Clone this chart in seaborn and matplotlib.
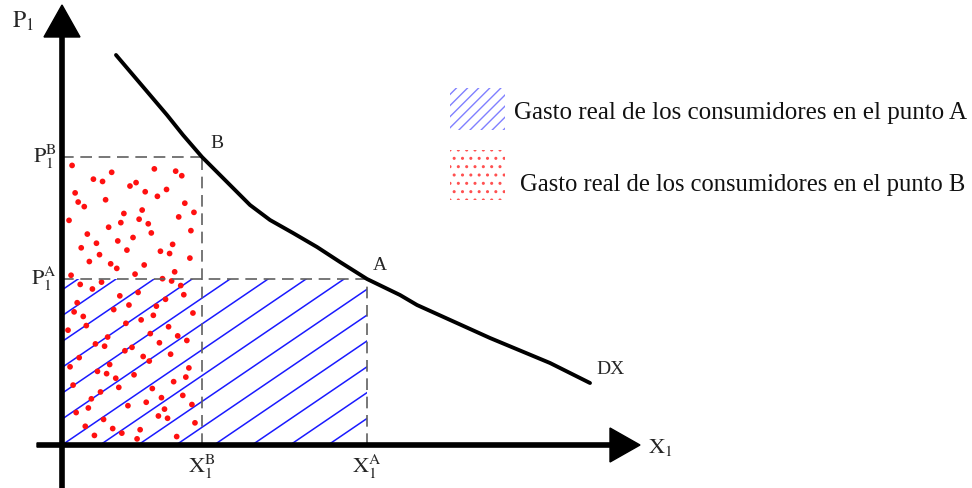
import numpy as np
import pandas as pd
import matplotlib
matplotlib.use("Agg")
import matplotlib.pyplot as plt
from matplotlib.patches import Rectangle
from matplotlib.collections import LineCollection
import seaborn as sns

# curva de demanda DX (cantidad X1, precio P1)
demand_x = [54, 71, 88, 105, 121, 140, 155, 171, 188, 208, 231, 255,
            278, 305, 338, 355, 428, 488, 528]
demand_p = [390, 370, 350, 330, 310, 288, 273, 257, 240, 225, 212, 198,
            183, 166, 150, 140, 107, 82, 62]

# puntos A y B sobre la curva
point_names = ["A", "B"]
point_x = [305, 140]   # X1^A, X1^B
point_p = [166, 288]   # P1^A, P1^B

legend_labels = ["Gasto real de los consumidores en el punto A",
                 "Gasto real de los consumidores en el punto B"]

sns.set_theme(style="white")
plt.rcParams["font.family"] = ["Liberation Serif", "DejaVu Serif"]
plt.rcParams["mathtext.fontset"] = "stix"
plt.rcParams["hatch.linewidth"] = 1.0

xa, xb = point_x
pa, pb = point_p


def halton(i, base):
    # secuencia de van der Corput para la textura de puntos
    f, r = 1.0, 0.0
    while i > 0:
        f /= base
        r += f * (i % base)
        i //= base
    return r


fig = plt.figure(figsize=(9.72, 4.88), dpi=100)
ax = fig.add_axes([0, 0, 1, 1])
ax.set_xlim(-62, 910)
ax.set_ylim(-43, 445)
ax.axis("off")

# area A: rayado azul
rect_a = Rectangle((0, 0), xa, pa, fill=False, lw=0)
ax.add_patch(rect_a)
slope, step = 0.68, 38
segs = []
for c in np.arange(-9, 10) * step:
    segs.append([(c, 0), (c + 500, 500 * slope)])
lc = LineCollection(segs, colors="#1a1aff", linewidths=1.1, zorder=2)
ax.add_collection(lc)
lc.set_clip_path(rect_a)

# area B: puntos rojos (textura cuasi-aleatoria determinista)
n = np.arange(1, 116)
dot_x = 5 + np.array([halton(i, 2) for i in n]) * (xb - 10)
dot_y = 5 + np.array([halton(i, 3) for i in n]) * (pb - 10)
sns.scatterplot(x=dot_x, y=dot_y, ax=ax, color="#ff1010", s=17,
                edgecolor="none", zorder=3, legend=False)

# lineas punteadas
dash = dict(color="#606060", lw=1.2, dashes=(7, 4), zorder=4)
ax.plot([0, xb], [pb, pb], **dash)
ax.plot([0, xa], [pa, pa], **dash)
ax.plot([xb, xb], [0, pb], **dash)
ax.plot([xa, xa], [0, pa], **dash)

# curva de demanda
df = pd.DataFrame({"x": demand_x, "p": demand_p})
sns.lineplot(data=df, x="x", y="p", ax=ax, color="black", lw=2.8,
             sort=False, zorder=5, solid_capstyle="round")

# ejes con flechas
ax.arrow(0, -43, 0, 483, width=4.2, head_width=36, head_length=32,
         length_includes_head=True, color="black", zorder=6)
ax.arrow(-25, 0, 603, 0, width=4.2, head_width=34, head_length=30,
         length_includes_head=True, color="black", zorder=6)

# etiquetas
fs = 16
ax.text(-50, 424, r"$\mathrm{P}_{\mathrm{1}}$", fontsize=17, ha="left", va="center")
ax.text(-5, pb, r"$\mathrm{P}_{\mathrm{1}}^{\mathrm{B}}$", fontsize=fs, ha="right", va="center")
ax.text(-5, pa, r"$\mathrm{P}_{\mathrm{1}}^{\mathrm{A}}$", fontsize=fs, ha="right", va="center")
ax.text(xb, -22, r"$\mathrm{X}_{\mathrm{1}}^{\mathrm{B}}$", fontsize=fs, ha="center", va="center")
ax.text(xa, -22, r"$\mathrm{X}_{\mathrm{1}}^{\mathrm{A}}$", fontsize=fs, ha="center", va="center")
ax.text(586, -3, r"$\mathrm{X}_{\mathrm{1}}$", fontsize=fs, ha="left", va="center")
ax.text(xb + 8, pb + 13, "B", fontsize=14, ha="left", va="center")
ax.text(xa + 6, pa + 14, "A", fontsize=14, ha="left", va="center")
ax.text(534, 75, "DX", fontsize=14, ha="left", va="center")

# leyenda
ax.add_patch(Rectangle((388, 315), 55, 42, facecolor="white",
                       edgecolor="#8080ff", hatch="///", lw=0))
ax.add_patch(Rectangle((388, 245), 55, 50, facecolor="white",
                       edgecolor="#ff5050", hatch="..", lw=0))
ax.text(452, 332, legend_labels[0], fontsize=18, ha="left", va="center", color="#111111")
ax.text(458, 260, legend_labels[1], fontsize=17.7, ha="left", va="center", color="#111111")

fig.savefig("out.png", dpi=100)
